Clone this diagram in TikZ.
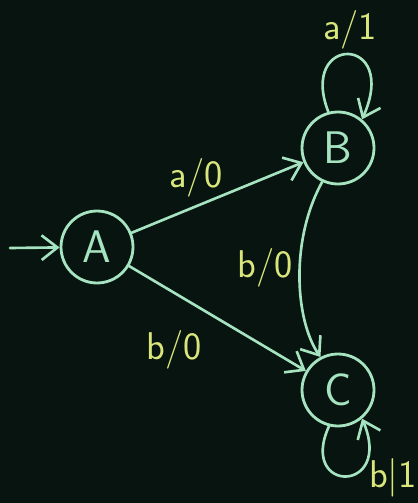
\documentclass[tikz,border=0pt]{standalone}
\usetikzlibrary{arrows.meta}
\definecolor{board}{HTML}{07140F}
\definecolor{chalk}{HTML}{A6E3C0}
\definecolor{chalky}{HTML}{D9E67C}
\tikzset{
  state/.style={circle, draw=chalk, line width=1.6pt, minimum size=1.44cm, inner sep=0pt,
    text=chalk, font=\sffamily\fontsize{26}{26}\selectfont},
  lbl/.style={text=chalky, font=\sffamily\fontsize{22}{22}\selectfont},
  edge/.style={draw=chalk, line width=1.5pt, -{Straight Barb[length=9pt,width=14pt]}}
}
\begin{document}
\begin{tikzpicture}[x=0.02cm, y=-0.02cm, line join=round, line cap=round]
	% Nền bảng đen
	\fill[board] (0,0) rectangle (418,503);
	\useasboundingbox (0,0) rectangle (418,503);
	
	% Các trạng thái
	\node[state] (A) at (97,247) {A};
	\node[state] (B) at (338,148) {B};
	\node[state] (C) at (338,390) {C};
	\coordinate (start) at (10,248);
	
	% Các cung chuyển
	\draw[edge] (start) -- (A);
	\draw[edge] (A) -- (B) node[lbl, at={(196,178)}] {a/0};
	\draw[edge] (A) -- (C) node[lbl, at={(174,350)}] {b/0};
	\draw[edge] (B.245) .. controls (290,240) and (295,320) .. (C.118)
		node[lbl, at={(265,268)}] {b/0};
	
	% Vòng lặp tại B và C
	\draw[edge] (B.105) .. controls (298,34) and (400,34) .. (B.50)
		node[lbl, at={(350,30)}] {a/1};
	\draw[edge] (C.256) .. controls (298,494) and (394,494) .. (C.-50)
		node[lbl, at={(393,478)}] {b|1};
\end{tikzpicture}
\end{document}
